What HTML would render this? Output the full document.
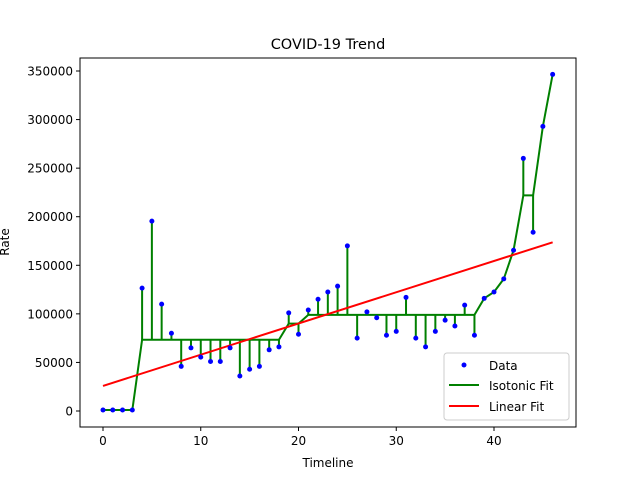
<!DOCTYPE html>
<html><head><meta charset="utf-8"><style>
body{margin:0;background:#fff;}
svg text{font-family:"DejaVu Sans","Liberation Sans",sans-serif;}
</style></head><body>
<svg id="chart" width="640" height="480" viewBox="0 0 640 480" xmlns="http://www.w3.org/2000/svg">
<rect width="640" height="480" fill="#fff"/>
<text x="328" y="49" font-size="14.5" text-anchor="middle">COVID-19 Trend</text>
<g id="plot"></g>
<rect x="80" y="58" width="496" height="369" fill="none" stroke="#000" stroke-width="1"/>
<g id="axes"></g>
<text x="328" y="467" font-size="12" text-anchor="middle">Timeline</text>
<text transform="translate(9,242) rotate(-90)" font-size="12" text-anchor="middle">Rate</text>
<g>
<rect x="444" y="353" width="125" height="67" rx="3" fill="#fff" fill-opacity="0.8" stroke="#ccc"/>
<circle cx="464" cy="365" r="2.5" fill="#0000ff"/>
<text x="489" y="370" font-size="12">Data</text>
<line x1="449" y1="385" x2="479" y2="385" stroke="#008000" stroke-width="2"/>
<text x="489" y="390" font-size="12">Isotonic Fit</text>
<line x1="449" y1="406" x2="479" y2="406" stroke="#ff0000" stroke-width="2"/>
<text x="489" y="411" font-size="12">Linear Fit</text>
</g>
</svg>
<script>
const values = [1000,1000,1000,1000,126500,195500,110000,80000,46000,65000,55500,51000,51000,65000,36000,43000,46000,63000,66000,101000,79000,104000,115000,122500,128500,170000,75000,102000,96000,78000,82000,117000,75000,66000,82000,93500,87500,109000,78000,116000,122500,136000,165500,260000,184000,293000,346500];
const xTicks = [0,10,20,30,40];
const yTicks = [0,50000,100000,150000,200000,250000,300000,350000];
const NS="http://www.w3.org/2000/svg";
const sx = v => 103 + v*(494-103)/40;
const sy = v => 411 - v*(411-71)/350000;
const plot=document.getElementById('plot'), axes=document.getElementById('axes');
function mk(tag,attrs,parent){const e=document.createElementNS(NS,tag);for(const k in attrs)e.setAttribute(k,attrs[k]);parent.appendChild(e);return e;}
// PAVA isotonic
let blocks=[];
values.forEach((v,i)=>{blocks.push({s:v,n:1});while(blocks.length>1&&blocks[blocks.length-2].s/blocks[blocks.length-2].n>blocks[blocks.length-1].s/blocks[blocks.length-1].n){const b=blocks.pop();blocks[blocks.length-1].s+=b.s;blocks[blocks.length-1].n+=b.n;}});
const iso=[];blocks.forEach(b=>{for(let k=0;k<b.n;k++)iso.push(b.s/b.n);});
// linear fit
const n=values.length;let mx=0,my=0;values.forEach((v,i)=>{mx+=i;my+=v;});mx/=n;my/=n;
let num=0,den=0;values.forEach((v,i)=>{num+=(i-mx)*(v-my);den+=(i-mx)**2;});
const slope=num/den,icpt=my-slope*mx;
// residual segments
values.forEach((v,i)=>{const l=mk('line',{x1:sx(i),x2:sx(i),y1:sy(v),y2:sy(iso[i]),stroke:'#008000','stroke-width':2},plot);

});
const isoLine=mk('polyline',{points:iso.map((v,i)=>sx(i)+','+sy(v)).join(' '),fill:'none',stroke:'#008000','stroke-width':2},plot);


const lin=mk('line',{x1:sx(0),y1:sy(icpt),x2:sx(n-1),y2:sy(icpt+slope*(n-1)),stroke:'#ff0000','stroke-width':2},plot);


values.forEach((v,i)=>{const c=mk('circle',{cx:sx(i),cy:sy(v),r:2.5,fill:'#0000ff'},plot);

});
xTicks.forEach(t=>{const x=sx(t);mk('line',{x1:x,x2:x,y1:427,y2:431,stroke:'#000'},axes);
const tx=mk('text',{x:x,y:445,'font-size':12,'text-anchor':'middle'},axes);tx.textContent=t;

});
yTicks.forEach(t=>{const y=sy(t);mk('line',{x1:76,x2:80,y1:y,y2:y,stroke:'#000'},axes);
const tx=mk('text',{x:73,y:y+4.5,'font-size':12,'text-anchor':'end'},axes);tx.textContent=t;

});
</script>
</body></html>
